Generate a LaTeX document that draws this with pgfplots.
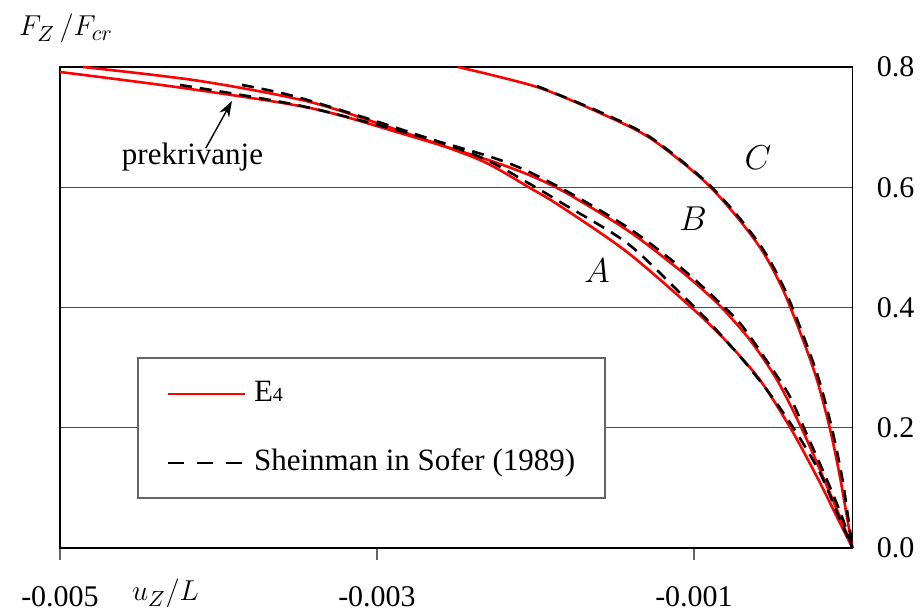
\documentclass[border=0pt]{standalone}
\usepackage{fontspec}
\setmainfont{Liberation Serif}
\usepackage{pgfplots}
\pgfplotsset{compat=1.18}
\usetikzlibrary{arrows.meta}

\pgfplotstableread{
x y
-0.004855 0.8000
-0.004117 0.7767
-0.003423 0.7418
-0.002855 0.6936
-0.002350 0.6453
-0.002035 0.5988
-0.001845 0.5688
-0.001423 0.4923
-0.001006 0.3975
-0.000792 0.3426
-0.000584 0.2794
-0.000388 0.1979
-0.000224 0.1181
-0.000098 0.0516
0 0
}\redA

\pgfplotstableread{
x y
-0.005000 0.7917
-0.004224 0.7651
-0.003423 0.7318
-0.002855 0.6902
-0.002224 0.6387
-0.001864 0.5988
-0.001423 0.5289
-0.001107 0.4657
-0.000943 0.4291
-0.000817 0.3975
-0.000647 0.3459
-0.000476 0.2794
-0.000319 0.1979
-0.000186 0.1181
-0.000079 0.0516
0 0
}\redB

\pgfplotstableread{
x y
-0.002489 0.8000
-0.001991 0.7667
-0.001593 0.7235
-0.001278 0.6819
-0.000943 0.6121
-0.000729 0.5505
-0.000565 0.4923
-0.000438 0.4291
-0.000312 0.3459
-0.000224 0.2794
-0.000142 0.1979
-0.000079 0.1181
-0.000035 0.0516
0 0
}\redC

\pgfplotstableread{
x y
-0.003852 0.7701
-0.003505 0.7501
-0.002855 0.6969
-0.002350 0.6503
-0.002035 0.6054
-0.001845 0.5755
-0.001423 0.5073
-0.001088 0.4241
-0.000899 0.3742
-0.000691 0.3127
-0.000521 0.2561
-0.000356 0.1929
-0.000205 0.1247
-0.000091 0.0549
0 0
}\dashA

\pgfplotstableread{
x y
-0.004243 0.7701
-0.003505 0.7368
-0.002855 0.6936
-0.002224 0.6453
-0.001864 0.6021
-0.001423 0.5339
-0.001088 0.4674
-0.000836 0.4075
-0.000691 0.3676
-0.000502 0.2960
-0.000394 0.2511
-0.000281 0.1846
-0.000161 0.1131
-0.000066 0.0516
0 0
}\dashB

\pgfplotstableread{
x y
-0.001991 0.7684
-0.001593 0.7252
-0.001278 0.6836
-0.000943 0.6137
-0.000729 0.5538
-0.000558 0.4940
-0.000426 0.4291
-0.000300 0.3459
-0.000211 0.2794
-0.000129 0.1979
-0.000066 0.1181
-0.000028 0.0516
0 0
}\dashC

\begin{document}
\begin{tikzpicture}
\begin{axis}[
  scale only axis, width=396.25pt, height=240.5pt,
  xmin=-0.005, xmax=0, ymin=0, ymax=0.8,
  clip=false,
  scaled x ticks=false, scaled y ticks=false,
  xtick={-0.005,-0.003,-0.001}, xticklabels={-0.005,-0.003,-0.001},
  ytick={0,0.2,0.4,0.6,0.8}, yticklabels={0.0,0.2,0.4,0.6,0.8},
  xtick pos=bottom, ytick pos=right, yticklabel pos=right,
  tick align=outside,
  major tick length=6pt,
  xtick style={black!60, line width=0.8pt},
  ytick style={draw=none},
  ymajorgrids, major grid style={black!70, line width=0.6pt},
  axis line style={line width=0.8pt},
  xticklabel style={font=\fontsize{15}{18}\selectfont, anchor=north, inner sep=0pt, yshift=-13pt},
  yticklabel style={font=\fontsize{15}{18}\selectfont, anchor=west, inner sep=0pt, xshift=6pt},
  legend cell align=left,
  legend style={at={(0.1338,0.2484)}, anchor=west, draw=none, fill=none,
    inner sep=0pt, row sep=20pt, column sep=4pt,
    font=\fontsize{15.5}{18}\selectfont,
    nodes={inner sep=0pt, text height=11pt, text depth=3.5pt}},
  legend image code/.code={\draw[#1] (0pt,0pt) -- (38.5pt,0pt);},
]
\draw[black!60, fill=white, line width=0.6pt] (axis cs:-0.004508,0.0832) rectangle (axis cs:-0.001562,0.3160);

\addplot[red, line width=1.3pt, smooth] table {\redA};
\addlegendentry{E{\fontsize{10}{10}\selectfont 4}}
\addplot[red, line width=1.3pt, smooth, forget plot] table {\redB};
\addplot[red, line width=1.3pt, smooth, forget plot] table {\redC};
\addplot[black, line width=1.3pt, smooth, dash pattern=on 6pt off 4pt,
  legend image post style={dash pattern=on 8pt off 6.5pt}] table {\dashA};
\addlegendentry{Sheinman in Sofer (1989)}
\addplot[black, line width=1.3pt, smooth, dash pattern=on 6pt off 4pt, forget plot] table {\dashB};
\addplot[black, line width=1.3pt, smooth, dash pattern=on 6pt off 4pt, forget plot] table {\dashC};

\node[font=\fontsize{16}{18}\selectfont] at (axis cs:-0.001612,0.4607) {$A$};
\node[font=\fontsize{16}{18}\selectfont] at (axis cs:-0.001006,0.5472) {$B$};
\node[font=\fontsize{16}{18}\selectfont] at (axis cs:-0.000596,0.6486) {$C$};
\node[anchor=base, font=\fontsize{15.5}{18}\selectfont] at (axis cs:-0.004164,0.637) {prekrivanje};
\draw[-{Stealth[length=8pt,width=5.5pt]}, line width=0.7pt] (axis cs:-0.004080,0.665) -- (axis cs:-0.003915,0.7435);

\node[anchor=base west, font=\fontsize{15.5}{18}\selectfont, xshift=-24pt, yshift=15.5pt] at (rel axis cs:0,1) {$F_Z\,/F_{cr}$};
\node[anchor=base west, font=\fontsize{15.5}{18}\selectfont, xshift=32.5pt, yshift=-26.5pt] at (rel axis cs:0,0) {$u_Z/L$};

\coordinate (bl) at (rel axis cs:0,0);
\coordinate (tr) at (rel axis cs:1,1);
\end{axis}
\pgfresetboundingbox
\path[use as bounding box] ([xshift=-30pt,yshift=-31pt]bl) rectangle ([xshift=34.25pt,yshift=33.5pt]tr);
\end{tikzpicture}
\end{document}
